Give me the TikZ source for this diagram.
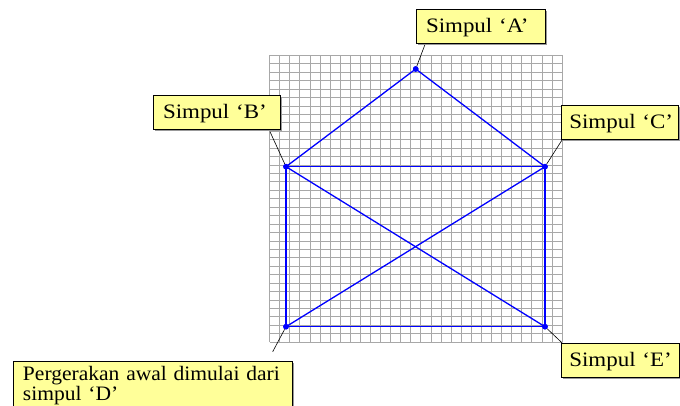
\documentclass[tikz,border=0pt]{standalone}
\usepackage{fontspec}
\setmainfont{Liberation Serif}[FakeStretch=1.12]
\newfontfamily\dfont{Liberation Serif}[FakeStretch=1.05]
\usetikzlibrary{shadows,calc}
\definecolor{boxyellow}{HTML}{FFFF99}
\definecolor{gridgray}{HTML}{A8A8A8}
\definecolor{pureblue}{rgb}{0,0,1}
\tikzset{
  lbl/.style={draw=black, line width=0.6pt, fill=boxyellow, anchor=north west,
    inner xsep=10pt, inner ysep=0pt, text height=23.4pt, text depth=10.5pt,
    font=\fontsize{20.5}{20}\selectfont, align=left,
    drop shadow={shadow xshift=1.8pt, shadow yshift=-1.8pt, fill=gray!80, opacity=1}},
  vtx/.style={circle, fill=pureblue, inner sep=0pt, minimum size=5.6pt},
  edge/.style={draw=pureblue, line width=1.3pt},
  leader/.style={draw=black, line width=0.6pt},
  gridline/.style={draw=gridgray, line width=0.6pt}
}
\begin{document}
\begin{tikzpicture}[x=1pt,y=1pt]
\useasboundingbox (0,0) rectangle (680,406);
\clip (0,0) rectangle (680,406);
% grid
\foreach \i in {0,...,29} {
  \draw[gridline] ({269.5+\i*10.086},64) -- ({269.5+\i*10.086},350.7);
}
\foreach \j in {0,...,34} {
  \draw[gridline] (269.5,{64+\j*8.432}) -- (562,{64+\j*8.432});
}
% vertices
\node[vtx] (A) at (415.7,337) {};
\node[vtx] (B) at (286,239.3) {};
\node[vtx] (C) at (545,239.3) {};
\node[vtx] (D) at (286,79.3) {};
\node[vtx] (E) at (545,79.3) {};
% edges
\draw[edge] (A.center) -- (B.center);
\draw[edge] (A.center) -- (C.center);
\draw[edge] (B.center) -- (C.center);
\draw[edge] (B.center) -- (D.center);
\draw[edge] (C.center) -- (E.center);
\draw[edge] (D.center) -- (E.center);
\draw[edge] (B.center) -- (E.center);
\draw[edge] (C.center) -- (D.center);
\foreach \v in {A,B,C,D,E} { \node[vtx] at (\v) {}; }
% leader start points
\coordinate (ta) at (426.7,366);
\coordinate (tb) at (270,274.3);
\coordinate (tc) at (566.7,273.3);
\coordinate (td) at (272.7,54.3);
\coordinate (te) at (564.3,61);
\draw[leader] (ta) -- (A);
\draw[leader] (tb) -- (B);
\draw[leader] (tc) -- (C);
\draw[leader] (td) -- (D);
\draw[leader] (te) -- (E);
% labels
\node[lbl, text width=109.3pt] (la) at (415.7,396.7) {\mbox{Simpul ‘A’}};
\node[lbl, text width=107.3pt] (lb) at (152.7,311) {\mbox{Simpul ‘B’}};
\node[lbl, inner xsep=8pt, text width=101pt] (lc) at (561,301) {\mbox{Simpul ‘C’}};
\node[lbl, inner xsep=8pt, text width=102pt] (le) at (561,62.7) {\mbox{Simpul ‘E’}};
\node[lbl, text width=259.6pt, text height=20pt, text depth=40pt,
  font=\fontsize{20.5}{20}\dfont] (ld) at (12.7,45.3)
  {\mbox{Pergerakan awal dimulai dari}\\\mbox{simpul ‘D’}};
\end{tikzpicture}
\end{document}
